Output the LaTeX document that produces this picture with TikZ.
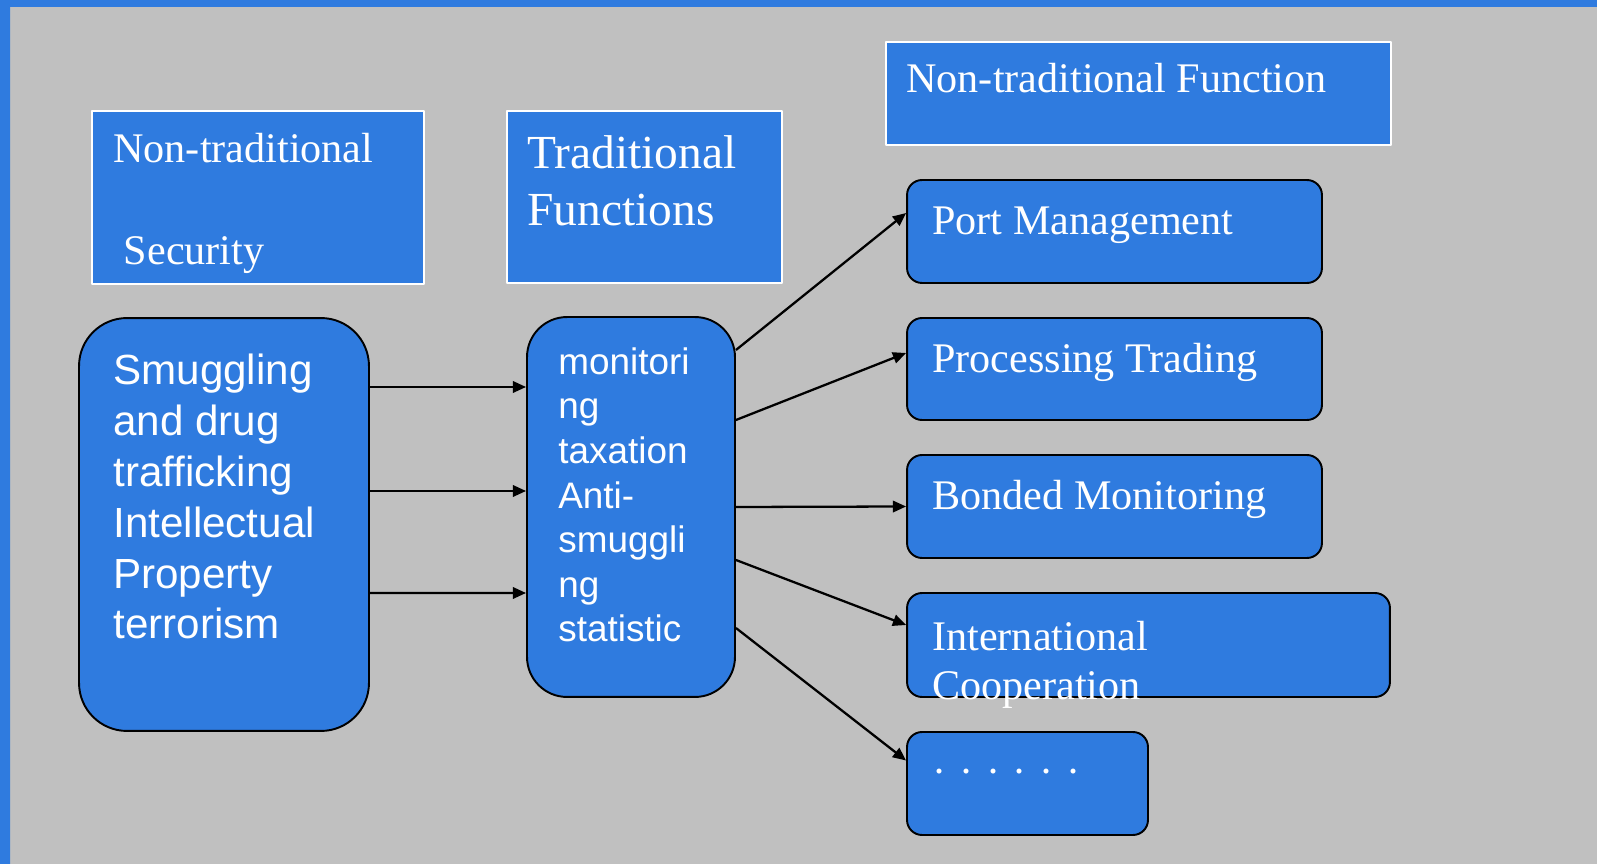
\documentclass[tikz,border=0pt]{standalone}
\usepackage{fontspec}
\setmainfont{Liberation Serif}
\setsansfont{Liberation Sans}
\usetikzlibrary{arrows.meta,calc}
\definecolor{slideblue}{RGB}{47,123,223}
\definecolor{slidegray}{RGB}{192,192,192}
\begin{document}
\begin{tikzpicture}[x=0.02cm, y=-0.02cm, line join=round, >={Triangle[length=7.5pt,width=6.5pt]},
	hdr/.style={draw=white, line width=1.1pt, fill=slideblue, inner sep=0},
	rbox/.style={draw=black, line width=1.1pt, fill=slideblue, inner sep=0},
	txt/.style={anchor=base west, inner sep=0, text=white, align=left},
	conn/.style={->, line width=1.3pt}]
	% background of the slide
	\fill[slidegray] (0,0) rectangle (1597,864);
	\fill[slideblue] (0,0) rectangle (1597,7) (0,0) rectangle (10,864);
	\useasboundingbox (0,0) rectangle (1597,864);
	% header boxes
	\node[hdr, minimum width=6.64cm, minimum height=3.46cm] (sec) at (258,197.5) {};
	\node[hdr, minimum width=5.5cm, minimum height=3.44cm] (trad) at (644.5,197) {};
	\node[hdr, minimum width=10.1cm, minimum height=2.06cm] (nfun) at (1138.5,93.5) {};
	\node[txt, font=\fontsize{24}{29.2}\selectfont] (secT) at (113,265) {Non-traditional\\ \\ \ Security};
	\node[txt, font=\fontsize{27}{32.9}\selectfont] (tradT) at (527,226) {Traditional\\Functions};
	\node[txt, font=\fontsize{24}{29}\selectfont] (nfunT) at (906,93) {Non-traditional Function};
	% left and middle boxes
	\node[rbox, rounded corners=0.96cm, minimum width=5.8cm, minimum height=8.26cm] (smug) at (224,524.5) {};
	\node[rbox, rounded corners=0.8cm, minimum width=4.16cm, minimum height=7.6cm] (mid) at (631,507) {};
	\node[txt, font=\sffamily\fontsize{24}{29}\selectfont] (smugT) at (113,639)
		{Smuggling\\and drug\\trafficking\\Intellectual\\Property\\terrorism};
	\node[txt, font=\sffamily\fontsize{21}{25.4}\selectfont] (midT) at (558,642)
		{monitori\\ng\\taxation\\Anti-\\smuggli\\ng\\statistic};
	% right boxes
	\node[rbox, rounded corners=0.3cm, minimum width=8.3cm, minimum height=2.06cm] (port) at (1114.5,231.5) {};
	\node[rbox, rounded corners=0.3cm, minimum width=8.3cm, minimum height=2.04cm] (proc) at (1114.5,369) {};
	\node[rbox, rounded corners=0.3cm, minimum width=8.3cm, minimum height=2.06cm] (bond) at (1114.5,506.5) {};
	\node[rbox, rounded corners=0.3cm, minimum width=9.66cm, minimum height=2.08cm] (intl) at (1148.5,645) {};
	\node[rbox, rounded corners=0.3cm, minimum width=4.82cm, minimum height=2.06cm] (dots) at (1027.5,783.5) {};
	\node[txt, font=\fontsize{24}{29}\selectfont] (portT) at (932,235) {Port Management};
	\node[txt, font=\fontsize{24}{29}\selectfont] (procT) at (932,373) {Processing Trading};
	\node[txt, font=\fontsize{24}{29}\selectfont] (bondT) at (932,510) {Bonded Monitoring};
	\node[txt, font=\fontsize{24}{28.4}\selectfont] (intlT) at (932,700) {International\\Cooperation};
	\node[txt, font=\fontsize{24}{29}\selectfont] (dotsT) at (932,786)
		{·\ \kern1.3pt·\ \kern1.3pt·\ \kern1.3pt·\ \kern1.3pt·\ \kern1.3pt·};
	% connectors
	\foreach \a/\b in {-137.5/-120, -33.5/-16, 68.5/86}
		\draw[conn] ($(smug.east)+(0,\a)$) -- ($(mid.west)+(0,\b)$);
	\foreach \a/\t/\b in {-157/port/-18.5, -87/proc/-16, 0/bond/0, 53/intl/-20, 121/dots/-23}
		\draw[conn] ($(mid.east)+(0,\a)$) -- ($(\t.west)+(0,\b)$);
\end{tikzpicture}
\end{document}
